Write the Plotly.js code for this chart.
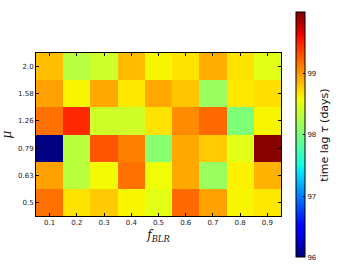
<!DOCTYPE html>
<html><head><meta charset="utf-8">
<script src="https://cdn.plot.ly/plotly-3.0.1.min.js"></script>
<style>html,body{margin:0;padding:0;background:#fff}#c{width:360px;height:270px}</style>
</head><body><div id="c"></div>
<script>
// Data
const fBLR = [0.1, 0.2, 0.3, 0.4, 0.5, 0.6, 0.7, 0.8, 0.9];
const muLabels = ["0.5", "0.63", "0.79", "1.26", "1.58", "2.0"];
const lag_mu050 = [99.16, 98.68, 98.78, 98.60, 98.50, 99.19, 98.96, 98.60, 98.66];
const lag_mu063 = [98.96, 98.30, 98.58, 99.16, 98.57, 98.93, 98.14, 98.62, 98.88];
const lag_mu079 = [96.00, 98.30, 99.28, 99.10, 98.06, 98.93, 98.78, 98.50, 99.97];
const lag_mu126 = [99.16, 99.47, 98.40, 98.40, 98.68, 99.05, 99.19, 98.02, 98.60];
const lag_mu158 = [98.96, 98.60, 98.93, 98.66, 98.93, 98.80, 98.14, 98.66, 98.70];
const lag_mu200 = [98.83, 98.29, 98.39, 98.85, 98.60, 98.68, 98.90, 98.68, 98.49];
const cbTicks = [96, 97, 98, 99];

// matplotlib jet colormap
function seg(t, pts){for(let i=0;i<pts.length-1;i++){const a=pts[i],b=pts[i+1];if(t>=a[0]&&t<=b[0]){return a[1]+(b[1]-a[1])*(t-a[0])/(b[0]-a[0]);}}return pts[pts.length-1][1];}
const R=[[0,0],[0.35,0],[0.66,1],[0.89,1],[1,0.5]];
const G=[[0,0],[0.125,0],[0.375,1],[0.64,1],[0.91,0],[1,0]];
const B=[[0,0.5],[0.11,1],[0.34,1],[0.65,0],[1,0]];
const jet=[];
for(let i=0;i<=100;i++){const t=i/100;jet.push([t,`rgb(${Math.round(255*seg(t,R))},${Math.round(255*seg(t,G))},${Math.round(255*seg(t,B))})`]);}

const z=[lag_mu050,lag_mu063,lag_mu079,lag_mu126,lag_mu158,lag_mu200];
const tf={family:"DejaVu Sans",size:7,color:"#222"};
Plotly.newPlot("c",[{
  type:"heatmap", x:fBLR, y:muLabels, z:z,
  colorscale:jet, zmin:96, zmax:100,
  colorbar:{
    thickness:9, len:1.5, lenmode:"fraction", y:0.497, yanchor:"middle",
    x:1.061, xanchor:"left", xpad:0, ypad:0,
    outlinewidth:1, outlinecolor:"#000",
    tickvals:cbTicks, ticks:"inside", ticklen:2, tickcolor:"#000",
    tickfont:tf,
    title:{text:"time lag <i>τ</i> (days)", side:"right", font:{family:"DejaVu Sans",size:11,color:"#111"}}
  }
}],{
  width:360,height:270,
  margin:{l:36,r:79,t:53,b:54},
  paper_bgcolor:"#fff",plot_bgcolor:"#fff",
  xaxis:{tickvals:fBLR,ticktext:fBLR.map(v=>v.toFixed(1)),ticks:"inside",ticklen:3,tickcolor:"#000",
    showline:true,linecolor:"#000",linewidth:1,mirror:"ticks",tickfont:tf,range:[0.05,0.95],
    title:{text:"<i>f</i><sub><i>BLR</i></sub>",font:{family:"DejaVu Serif",size:12,color:"#111"},standoff:4}},
  yaxis:{type:"category",ticks:"inside",ticklen:3,tickcolor:"#000",
    showline:true,linecolor:"#000",linewidth:1,mirror:"ticks",tickfont:tf,
    title:{text:"<i>μ</i>",font:{family:"DejaVu Serif",size:12,color:"#111"},standoff:6}}
},{displayModeBar:false,staticPlot:true});
</script></body></html>
